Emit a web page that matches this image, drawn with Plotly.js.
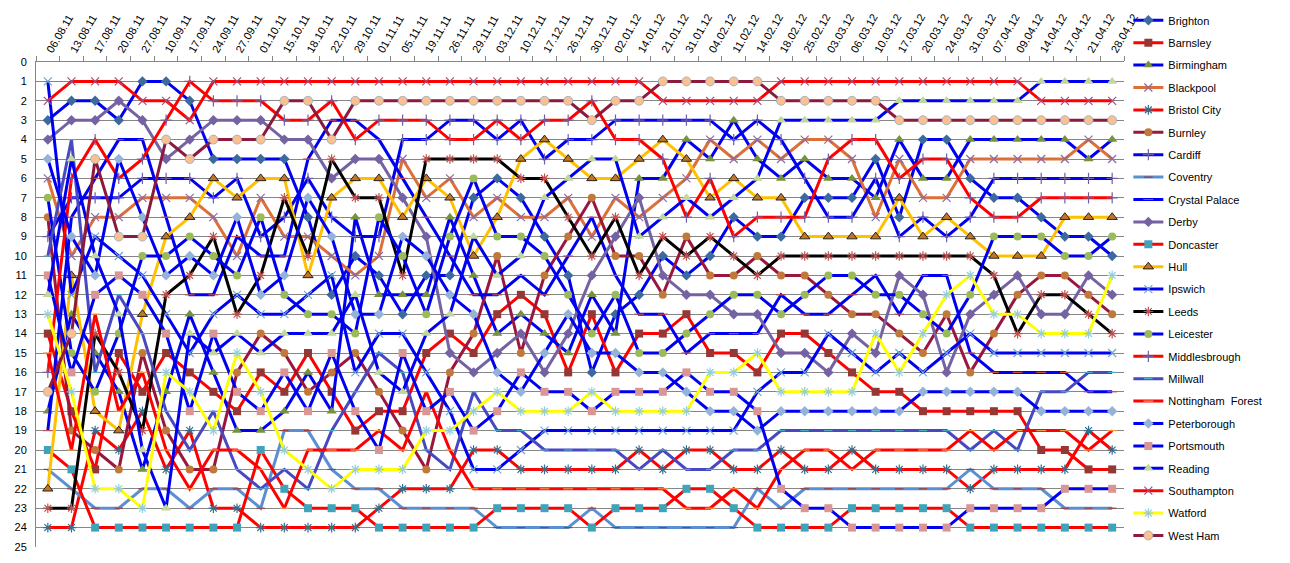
<!DOCTYPE html>
<html><head><meta charset="utf-8">
<script src="https://cdn.plot.ly/plotly-3.0.1.min.js"></script>
<style>body{margin:0;background:#fff}#chart{width:1290px;height:563px}</style>
</head><body><div id="chart"></div>
<script>
const dates = ['06.08.11','13.08.11','17.08.11','20.08.11','27.08.11','10.09.11','17.09.11','24.09.11','27.09.11','01.10.11','15.10.11','18.10.11','22.10.11','29.10.11','01.11.11','05.11.11','19.11.11','26.11.11','29.11.11','03.12.11','10.12.11','17.12.11','26.12.11','30.12.11','02.01.12','14.01.12','21.01.12','31.01.12','04.02.12','11.02.12','14.02.12','18.02.12','25.02.12','03.03.12','06.03.12','10.03.12','17.03.12','20.03.12','24.03.12','31.03.12','07.04.12','09.04.12','14.04.12','17.04.12','21.04.12','28.04.12'];

const brighton      = [3,2,2,3,1,1,2,5,5,5, 5,8,12,10,11,13,11,11,7, 6,7,9,11,16,13,12,10,11,10, 8,9,9,7,7,7,5,8,4,4,6,7,7,8,9,9,10];
const barnsley      = [14,18,21,15,17,15,16,17,18,16, 17,15,17,19,18,18,15,14,15, 13,12,13,16,13,16,14,14,13,15, 15,16,14,14,15,16,17,17,18,18,18,18,18,20,20,21,21];
const birmingham    = [18,13,15,17,21,17,13,16,19,19, 18,16,18,8,12,12,12,8,11, 14,13,14,15,12,14,6,6,4,5, 3,5,6,5,6,6,7,4,6,6,4,4,4,4,4,5,4];
const blackpool     = [6,10,8,8,7,7,7,8,10,7, 9,9,10,11,10,5,7,6,8, 7,8,8,7,9,7,8,7,6,4, 5,4,5,4,4,5,8,5,7,7,5,5,5,5,5,4,5];
const bristolCity   = [24,24,19,20,18,21,19,23,23,24, 24,24,24,24,23,22,22,22,20, 20,21,21,21,21,21,20,21,20,20, 21,21,20,21,21,20,21,21,21,21,22,21,21,21,21,19,20];
const burnley       = [8,19,20,21,15,19,21,21,16,14, 15,17,16,15,17,19,21,16,14, 10,15,11,9,7,10,10,12,9,11, 11,10,11,11,12,13,13,14,15,13,16,14,12,11,11,12,13];
const cardiff       = [9,7,7,7,6,6,6,7,6,9, 8,6,8,9,9,4,4,3,3, 4,3,5,4,4,3,3,3,3,3, 4,3,4,6,8,8,6,9,8,9,8,6,6,6,6,6,6];
const coventry      = [21,22,23,23,22,22,23,22,22,23, 19,19,21,22,22,23,23,23,23, 24,24,24,24,23,24,24,24,24,24, 24,22,23,22,22,22,22,22,22,22,21,22,22,22,23,23,23];
const crystalPalace = [19,8,6,4,4,8,12,12,9,10, 10,5,3,3,4,6,8,10,12, 12,11,12,10,8,11,13,13,15,14, 14,14,12,13,13,12,11,13,11,11,15,16,16,16,16,17,17];
const derby         = [4,3,3,2,3,5,4,3,3,3, 4,4,6,5,5,7,9,15,16, 15,14,16,14,11,9,7,11,12,12, 13,13,15,15,16,14,15,11,12,16,13,12,11,13,13,11,12];
const doncaster     = [20,21,24,24,24,24,24,24,24,20, 22,23,23,23,24,24,24,24,24, 23,23,23,23,24,23,23,23,22,22, 23,24,24,24,24,23,23,23,23,23,24,24,24,24,24,24,24];
const hull          = [22,11,18,19,13,9,8,6,7,6, 6,11,7,6,6,8,6,7,10, 8,5,4,5,6,6,5,4,5,7, 6,7,7,9,9,9,9,7,9,8,9,10,10,10,8,8,8];
const ipswich       = [1,12,9,10,11,13,15,13,12,13, 13,12,11,16,14,14,16,18,21, 21,20,19,19,19,19,19,19,19,19, 19,17,16,16,14,15,16,15,16,15,14,15,15,15,15,15,15];
const leeds         = [23,23,14,16,19,12,11,9,13,11, 7,10,5,7,7,11,5,5,5, 5,6,6,8,10,8,11,9,10,9, 10,11,10,10,10,10,10,10,10,10,10,11,14,12,12,13,14];
const leicester     = [7,15,17,14,10,10,9,10,11,8, 12,13,13,14,8,10,13,9,6, 9,9,10,12,14,12,15,15,14,13, 12,12,13,12,11,11,12,12,13,14,12,9,9,9,10,10,9];
const middlesbrough = [16,6,4,6,5,3,1,2,2,2, 3,3,2,4,3,3,3,4,4, 3,4,3,3,2,4,4,5,8,6, 9,8,8,8,5,4,4,6,5,5,7,8,8,7,7,7,7];
const millwall      = [10,4,16,12,14,18,20,18,21,22, 21,22,19,17,15,16,20,21,17, 19,19,20,20,20,20,21,20,21,21, 20,20,19,19,19,19,19,19,19,19,20,19,20,17,17,16,16];
const nottmForest   = [15,20,13,18,16,20,22,20,20,21, 23,20,20,20,19,20,17,20,22, 22,22,22,22,22,22,22,22,23,23, 22,23,21,20,20,21,20,20,20,20,19,20,19,19,19,20,19];
const peterborough  = [5,9,11,5,8,11,10,11,8,12, 11,7,9,13,13,9,10,12,13, 16,17,15,13,15,15,16,16,17,18, 18,19,18,18,18,18,18,18,17,17,17,17,17,18,18,18,18];
const portsmouth    = [11,16,12,11,12,14,18,14,17,18, 16,18,15,18,20,15,18,17,19, 18,16,17,17,18,17,17,17,16,17, 17,18,22,23,23,24,24,24,24,24,23,23,23,23,22,22,22];
const reading       = [12,5,10,13,20,23,14,15,14,15, 14,14,14,12,16,17,14,13,9, 11,10,7,6,5,5,9,8,7,8, 7,6,3,3,3,3,3,2,2,2,2,2,2,1,1,1,1];
const southampton   = [2,1,1,1,2,2,3,1,1,1, 1,1,1,1,1,1,1,1,1, 1,1,1,1,1,1,1,2,2,2, 2,2,1,1,1,1,1,1,1,1,1,1,1,2,2,2,2];
const watford       = [13,17,22,22,23,16,17,19,15,17, 20,21,22,21,21,21,19,19,18, 17,18,18,18,17,18,18,18,18,16, 16,15,17,17,17,17,14,16,14,12,11,13,13,14,14,14,11];
const westHam       = [17,14,5,9,9,4,5,4,4,4, 2,2,4,2,2,2,2,2,2, 2,2,2,2,3,2,2,1,1,1, 1,1,2,2,2,2,2,3,3,3,3,3,3,3,3,3,3];

const BLUE = '#0000F0', RED = '#FF0000';
const series = [
  {name:'Brighton', y:brighton, lc:BLUE, sym:'diamond', mc:'#3D6A9E', ms:8},
  {name:'Barnsley', y:barnsley, lc:RED, sym:'square', mc:'#953735', ms:8},
  {name:'Birmingham', y:birmingham, lc:BLUE, sym:'triangle-up', mc:'#76923C', ms:9},
  {name:'Blackpool', y:blackpool, lc:'#DC7038', sym:'x-thin-open', mc:'#8A6AA8', ms:8},
  {name:'Bristol City', y:bristolCity, lc:RED, sym:'asterisk-open', mc:'#31708E', ms:8},
  {name:'Burnley', y:burnley, lc:'#99163C', sym:'circle', mc:'#C0793A', ms:8},
  {name:'Cardiff', y:cardiff, lc:BLUE, sym:'cross-thin-open', mc:'#6E5EB0', ms:8},
  {name:'Coventry', y:coventry, lc:'#5A8FD2', sym:'line-ew-open', mc:'#A03C3C', ms:6},
  {name:'Crystal Palace', y:crystalPalace, lc:BLUE, sym:'line-ew-open', mc:'#C0504D', ms:7},
  {name:'Derby', y:derby, lc:'#7462A2', sym:'diamond', mc:'#7462A2', ms:8},
  {name:'Doncaster', y:doncaster, lc:RED, sym:'square', mc:'#3FA3B9', ms:8},
  {name:'Hull', y:hull, lc:'#FFC000', sym:'triangle-up', mc:'#C0762A', ms:9, ol:'#000'},
  {name:'Ipswich', y:ipswich, lc:BLUE, sym:'x-thin-open', mc:'#6FA8D0', ms:8},
  {name:'Leeds', y:leeds, lc:'#000000', sym:'asterisk-open', mc:'#C0504D', ms:8},
  {name:'Leicester', y:leicester, lc:BLUE, sym:'circle', mc:'#9BBB59', ms:8},
  {name:'Middlesbrough', y:middlesbrough, lc:RED, sym:'cross-thin-open', mc:'#7060A0', ms:8},
  {name:'Millwall', y:millwall, lc:'#4848C0', sym:'line-ew-open', mc:'#4BACC6', ms:6},
  {name:'Nottingham  Forest', y:nottmForest, lc:RED, sym:'line-ew-open', mc:'#F79646', ms:7},
  {name:'Peterborough', y:peterborough, lc:BLUE, sym:'diamond', mc:'#95B3D7', ms:8},
  {name:'Portsmouth', y:portsmouth, lc:BLUE, sym:'square', mc:'#D99694', ms:8},
  {name:'Reading', y:reading, lc:BLUE, sym:'triangle-up', mc:'#C3D69B', ms:9},
  {name:'Southampton', y:southampton, lc:RED, sym:'x-thin-open', mc:'#A05080', ms:8},
  {name:'Watford', y:watford, lc:'#FFFF00', sym:'asterisk-open', mc:'#93CDDD', ms:8},
  {name:'West Ham', y:westHam, lc:'#8B1A3C', sym:'circle', mc:'#FAC090', ms:9, ol:'#8EA9C8'}
];

const traces = series.map((s,i)=>{
  const open = s.sym.indexOf('open')>=0;
  return {
    type:'scatter', mode:'lines+markers', name:s.name, x:dates, y:s.y,
    legendgroup:'g'+i,
    line:{color:s.lc, width:3},
    marker:{symbol:s.sym, size:s.ms, color:s.mc,
            line:{color: open ? s.mc : (s.ol||s.mc), width: open ? 1.2 : (s.ol?0.8:0)}},
    hoverinfo:'name+y'
  };
});

const layout = {
  width:1290, height:563,
  margin:{l:36, r:166, t:62, b:16, pad:0, autoexpand:false},
  paper_bgcolor:'#ffffff', plot_bgcolor:'#ffffff',
  font:{family:'Liberation Sans, Arial, sans-serif', size:11, color:'#000'},
  showlegend:true,
  xaxis:{type:'category', side:'top', tickangle:-60, tickfont:{size:11},
         showgrid:false, showline:true, linecolor:'#868686', linewidth:1,
         ticks:'outside', ticklen:5, tickcolor:'#868686', tickson:'boundaries',
         range:[-0.5,45.5], fixedrange:true, automargin:false},
  yaxis:{range:[25,0], dtick:1, tick0:0, showgrid:true, gridcolor:'#868686', gridwidth:1,
         zeroline:false, showline:true, linecolor:'#868686', ticks:'', tickfont:{size:11},
         ticklabelstandoff:6, automargin:false, fixedrange:true},
  legend:{x:1.004, xanchor:'left', y:1.1159, yanchor:'top', traceorder:'grouped',
          tracegroupgap:3.4, maxheight:600, font:{size:11}, bgcolor:'rgba(0,0,0,0)', itemwidth:30}
};

Plotly.newPlot('chart', traces, layout, {displayModeBar:false, staticPlot:true});
</script></body></html>
